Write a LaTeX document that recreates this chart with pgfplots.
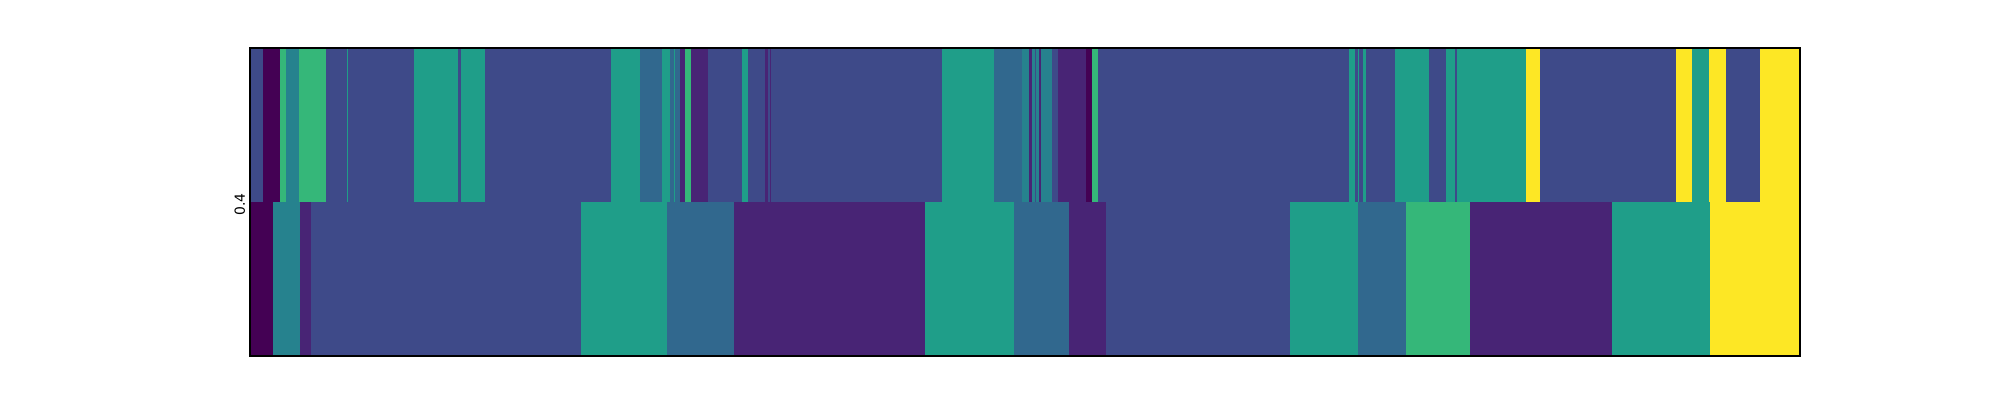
\documentclass[border=0pt]{standalone}
\usepackage{pgfplots}
\pgfplotsset{compat=1.18}
\usepackage{fontspec}
\setmainfont{DejaVu Sans}
\definecolor{K}{HTML}{440154}
\definecolor{P}{HTML}{482475}
\definecolor{B}{HTML}{3E4A89}
\definecolor{S}{HTML}{31688E}
\definecolor{T}{HTML}{26828E}
\definecolor{E}{HTML}{1F9E89}
\definecolor{G}{HTML}{35B779}
\definecolor{Y}{HTML}{FDE725}
\newcommand{\up}[3]{\addplot[fill=#3, draw=#3, line width=0.15pt, mark=none] coordinates {(#1,1) (#2,1) (#2,2) (#1,2)} --cycle;}
\newcommand{\lo}[3]{\addplot[fill=#3, draw=#3, line width=0.15pt, mark=none] coordinates {(#1,0) (#2,0) (#2,1) (#1,1)} --cycle;}
\begin{document}
\begin{tikzpicture}
\useasboundingbox (-180pt,-31.68pt) rectangle (1260pt,256.32pt);
\begin{axis}[
  at={(0pt,0pt)}, anchor=south west,
  scale only axis, width=1116pt, height=221.76pt,
  xmin=0, xmax=1550, ymin=0, ymax=2,
  xtick=\empty, ytick={1}, yticklabels={0.4},
  major tick length=0pt,
  yticklabel style={rotate=90, anchor=south, font=\fontsize{10}{12}\selectfont, xshift=-2pt},
  axis line style={line width=0.8pt, black},
  axis on top,
]
% top row
\up{0}{13}{B}
\up{13}{30}{K}
\up{30}{36}{G}
\up{36}{49}{T}
\up{49}{76}{G}
\up{76}{97}{B}
\up{97}{98}{E}
\up{98}{164}{B}
\up{164}{208}{E}
\up{208}{211}{B}
\up{211}{235}{E}
\up{235}{361}{B}
\up{361}{390}{E}
\up{390}{412}{S}
\up{412}{420}{E}
\up{420}{424}{S}
\up{424}{425}{E}
\up{425}{430}{S}
\up{430}{435}{P}
\up{435}{441}{G}
\up{441}{458}{P}
\up{458}{492}{B}
\up{492}{498}{E}
\up{498}{515}{B}
\up{515}{518}{P}
\up{518}{520}{B}
\up{520}{521}{P}
\up{521}{692}{B}
\up{692}{744}{E}
\up{744}{772}{S}
\up{772}{779}{T}
\up{779}{782}{P}
\up{782}{785}{T}
\up{785}{786}{B}
\up{786}{789}{T}
\up{789}{791}{P}
\up{791}{802}{T}
\up{802}{808}{B}
\up{808}{836}{P}
\up{836}{842}{K}
\up{842}{848}{G}
\up{848}{1099}{B}
\up{1099}{1105}{E}
\up{1105}{1108}{B}
\up{1108}{1109}{E}
\up{1109}{1113}{B}
\up{1113}{1116}{E}
\up{1116}{1145}{B}
\up{1145}{1179}{E}
\up{1179}{1196}{B}
\up{1196}{1205}{E}
\up{1205}{1207}{B}
\up{1207}{1276}{E}
\up{1276}{1290}{Y}
\up{1290}{1426}{B}
\up{1426}{1442}{Y}
\up{1442}{1459}{E}
\up{1459}{1476}{Y}
\up{1476}{1510}{B}
\up{1510}{1550}{Y}
% bottom row
\lo{0}{23}{K}
\lo{23}{50}{T}
\lo{50}{61}{P}
\lo{61}{331}{B}
\lo{331}{417}{E}
\lo{417}{484}{S}
\lo{484}{675}{P}
\lo{675}{764}{E}
\lo{764}{819}{S}
\lo{819}{856}{P}
\lo{856}{1040}{B}
\lo{1040}{1108}{E}
\lo{1108}{1156}{S}
\lo{1156}{1220}{G}
\lo{1220}{1362}{P}
\lo{1362}{1460}{E}
\lo{1460}{1550}{Y}
\end{axis}
\end{tikzpicture}
\end{document}
